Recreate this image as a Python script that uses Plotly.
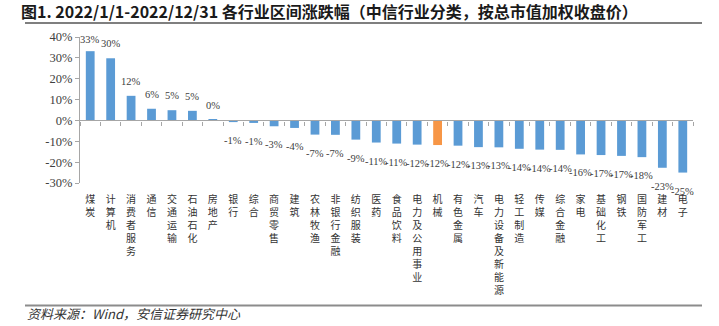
import plotly.graph_objects as go

categories = ["煤炭", "计算机", "消费者服务", "通信", "交通运输", "石油石化", "房地产", "银行", "综合",
              "商贸零售", "建筑", "农林牧渔", "非银行金融", "纺织服装", "医药", "食品饮料", "电力及公用事业",
              "机械", "有色金属", "汽车", "电力设备及新能源", "轻工制造", "传媒", "综合金融", "家电",
              "基础化工", "钢铁", "国防军工", "建材", "电子"]
values = [33.2, 29.8, 11.8, 5.6, 4.9, 4.6, 0.3, -0.8, -1.2, -2.8, -3.6, -6.8, -6.9, -9.2, -10.6,
          -11.1, -11.6, -11.8, -12.1, -12.8, -12.9, -13.6, -14.0, -14.1, -16.3, -16.6, -17.0, -17.6,
          -22.7, -25.0]
highlight = "机械"
y_ticks = [40, 30, 20, 10, 0, -10, -20, -30]

title_text = "图1. 2022/1/1-2022/12/31 各行业区间涨跌幅（中信行业分类，按总市值加权收盘价）"
source_text = "资料来源：Wind，安信证券研究中心"

W, H = 719, 326
L, R, T, B = 80, 26, 37, 143
pw, ph = W - L - R, H - T - B
ymin, ymax = -30, 40

def px_x(x):
    return (x - L) / pw

def px_y(y):
    return (H - B - y) / ph

blue = "#5B9BD5"
orange = "#F79646"
colors = [orange if c == highlight else blue for c in categories]
labels = [f"{round(v):d}%" for v in values]
ticktext = ["<br>".join(list(c)) for c in categories]

fig = go.Figure()
fig.add_trace(go.Bar(
    x=categories, y=values, marker=dict(color=colors, line=dict(width=0)),
    showlegend=False, hoverinfo="skip"))
fig.add_trace(go.Scatter(
    x=categories, y=[0] * len(categories), xaxis="x2", mode="markers",
    marker=dict(opacity=0), showlegend=False, hoverinfo="skip"))

value_annotations = []
for c, v, t in zip(categories, values, labels):
    pos = v >= 0
    if pos:
        bar_top_px = (ymax - v) / (ymax - ymin) * ph  # distance below plot top
        shift = min(7, bar_top_px - 10)
    else:
        shift = -11
    value_annotations.append(dict(
        x=c, y=v, xref="x", yref="y", text=t, showarrow=False,
        xanchor="center", yanchor="bottom" if pos else "top",
        yshift=shift,
        font=dict(family="Liberation Serif", size=10.5, color="#404040")))

fig.update_layout(
    width=W, height=H,
    margin=dict(l=L, r=R, t=T, b=B, pad=0),
    paper_bgcolor="white", plot_bgcolor="white",
    bargap=0.57,
    title=dict(text=f"<b>{title_text}</b>", xref="container", yref="container",
               x=21 / W, y=1 - 12 / H, xanchor="left", yanchor="middle",
               font=dict(family="Noto Sans CJK SC", size=16, color="#1a1a1a")),
    xaxis=dict(type="category", categoryorder="array", categoryarray=categories,
               tickmode="array", tickvals=categories, ticktext=ticktext,
               tickangle=0, ticks="", showline=False, showgrid=False, zeroline=False,
               ticklabelstandoff=9,
               tickfont=dict(family="Noto Sans CJK SC", size=10, color="#333333"),
               range=[-0.5, len(categories) - 0.5]),
    xaxis2=dict(overlaying="x", matches="x", anchor="free", position=(0 - ymin) / (ymax - ymin),
                side="bottom", showline=True, linecolor="#a6a6a6", linewidth=1.2,
                ticks="outside", tickson="boundaries", ticklen=4, tickcolor="#a6a6a6",
                showticklabels=False, showgrid=False, zeroline=False),
    yaxis=dict(range=[ymin, ymax], tickmode="array", tickvals=y_ticks,
               ticktext=[f"{v}%" for v in y_ticks], ticks="outside", ticklen=4,
               tickcolor="#a6a6a6", showline=True, linecolor="#a6a6a6", linewidth=1.2,
               showgrid=False, zeroline=False,
               tickfont=dict(family="Liberation Serif", size=12.5, color="#404040")),
    shapes=[
        dict(type="line", xref="paper", yref="paper", x0=px_x(25), x1=px_x(702),
             y0=px_y(23), y1=px_y(23), line=dict(color="#7f7f7f", width=2)),
        dict(type="line", xref="paper", yref="paper", x0=px_x(25), x1=px_x(702),
             y0=px_y(305.5), y1=px_y(305.5), line=dict(color="#8c8c8c", width=2)),
    ],
    annotations=value_annotations + [
        dict(text=f"<i>{source_text}</i>", xref="paper", yref="paper", x=px_x(25), y=px_y(313),
             xanchor="left", yanchor="middle", showarrow=False,
             font=dict(family="Noto Sans CJK SC", size=13, color="#333333")),
    ],
)

fig.write_html("out.html")
